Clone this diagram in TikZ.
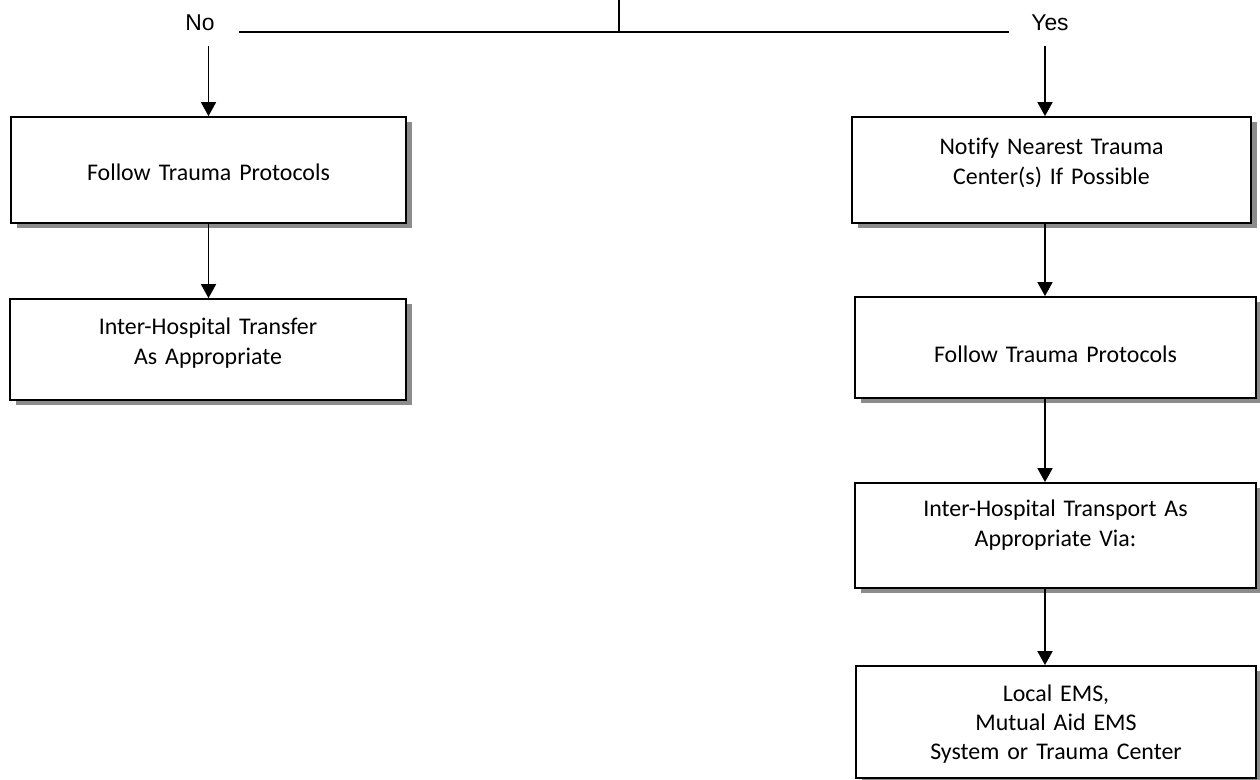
\documentclass[tikz,border=0pt]{standalone}
\usepackage{fontspec}
\setmainfont{Carlito}[Ligatures=NoCommon]
\newfontfamily\arialfont{Liberation Sans}
\usetikzlibrary{arrows.meta,shadows}

\begin{document}
\begin{tikzpicture}[line width=1pt,
  stepbox/.style={draw,fill=white,inner sep=0pt,align=center,text width=#1,
    font=\fontsize{13.6}{16.6}\selectfont,
    drop shadow={shadow xshift=0.12cm,shadow yshift=-0.1cm,fill=black!45,opacity=1}},
  answer/.style={font=\arialfont\fontsize{13}{15}\selectfont},
  flow/.style={-{Triangle[width=0.3cm,length=0.28cm]}}]

\useasboundingbox (0,0) rectangle (25.2,-15.6);

% split
\coordinate (SplitTop) at (12.38,0);
\coordinate (SplitLeft) at (4.78,-0.64);
\coordinate (SplitRight) at (20.18,-0.64);
\coordinate (YesColumn) at (20.9,0);

\node[answer] (AnswerNo) at (4.0,-0.46) {No};
\node[answer] (AnswerYes) at (21.0,-0.46) {Yes};

\draw (SplitTop) -- (SplitTop |- SplitLeft);
\draw (SplitLeft) -- (SplitRight);


% No
\node[stepbox=7.9cm,text height=1.28cm,text depth=0.84cm] (StepNo1) at (4.17,-3.40) {Follow Trauma Protocols};
\node[stepbox=7.92cm,text height=0.72cm,text depth=1.30cm] (StepNo2) at (4.16,-6.99) {Inter-Hospital Transfer\\As Appropriate};

\draw[flow,shorten <=5pt] (AnswerNo.south -| StepNo1.north) to (StepNo1.north);
\draw[flow] (StepNo1.south) to (StepNo2.north -| StepNo1.north);


% Yes
\node[stepbox=7.98cm,text height=0.76cm,text depth=1.36cm] (StepYes1) at (21.03,-3.40) {Notify Nearest Trauma\\Center(s) If Possible};
\node[stepbox=8.02cm,text height=1.32cm,text depth=0.70cm] (StepYes2) at (21.11,-6.95) {Follow Trauma Protocols};
\node[stepbox=8.02cm,text height=0.68cm,text depth=1.42cm] (StepYes3) at (21.11,-10.71) {Inter-Hospital Transport As\\Appropriate Via:};
\node[stepbox=8.0cm,text height=0.70cm,text depth=1.54cm] (StepYes4) at (21.12,-14.44) {Local EMS,\\Mutual Aid EMS\\System or Trauma Center};

\draw[flow,shorten <=5pt] (AnswerYes.south -| YesColumn) to (StepYes1.north -| YesColumn);
\draw[flow] (StepYes1.south -| YesColumn) to (StepYes2.north -| YesColumn);
\draw[flow] (StepYes2.south -| YesColumn) to (StepYes3.north -| YesColumn);
\draw[flow] (StepYes3.south -| YesColumn) to (StepYes4.north -| YesColumn);

\end{tikzpicture}
\end{document}
